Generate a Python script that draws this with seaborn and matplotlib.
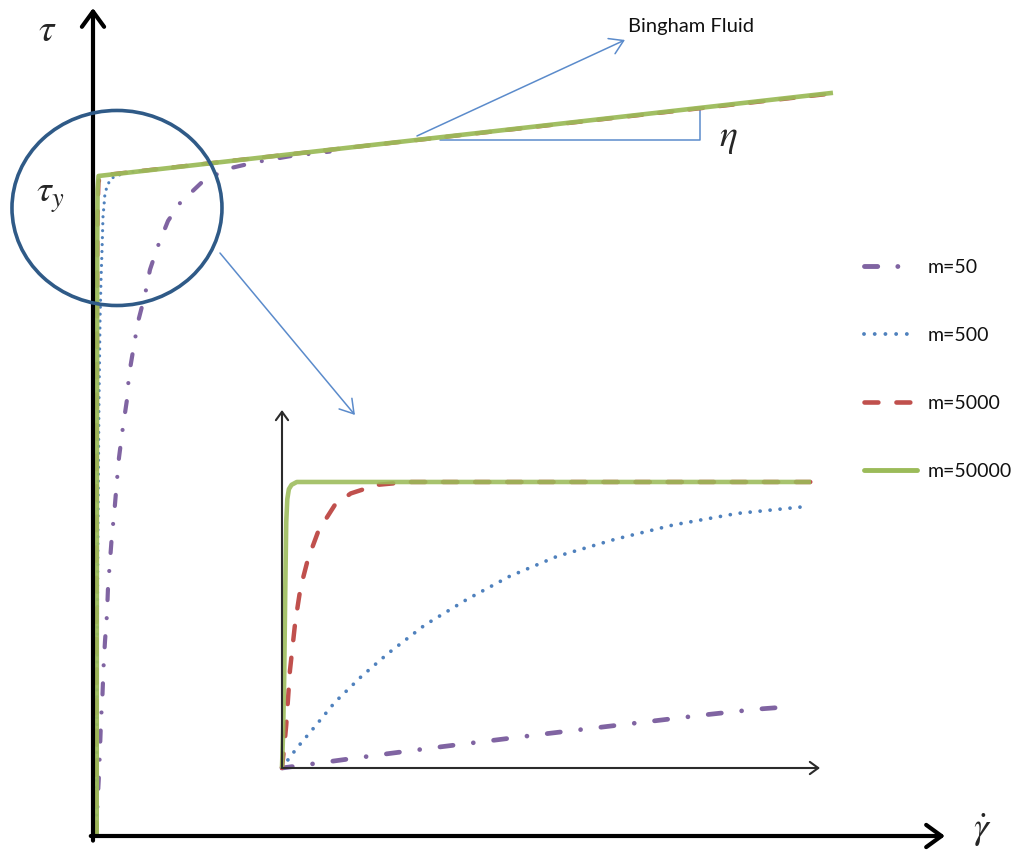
import matplotlib
matplotlib.use("Agg")
import matplotlib.pyplot as plt
from matplotlib.patches import Ellipse
from matplotlib.lines import Line2D
import seaborn as sns

sns.set_theme(style="white")
plt.rcParams["font.family"] = ["Lato", "DejaVu Sans"]
plt.rcParams["mathtext.fontset"] = "stix"
plt.rcParams["lines.scale_dashes"] = False

# Regularisation exponents and their colours
m_labels = ["m=50", "m=500", "m=5000", "m=50000"]
m_colors = ["#8064A2", "#4F81BD", "#C0504D", "#9BBB59"]

# Main diagram: shear rate (normalised) vs shear stress (units of tau_y)
gd_50 = [0.0041, 0.0068, 0.0081, 0.0095, 0.0108, 0.0128, 0.0142, 0.0162, 0.0189,
         0.0203, 0.0230, 0.0257, 0.0284, 0.0324, 0.0351, 0.0405, 0.0459, 0.0486,
         0.0541, 0.0608, 0.0703, 0.0770, 0.0878, 0.1014, 0.1176, 0.1486, 0.1824,
         0.2203, 0.2662, 0.3200]
tau_50 = [0.0, 0.065, 0.092, 0.133, 0.174, 0.214, 0.255, 0.295, 0.336,
          0.377, 0.417, 0.458, 0.485, 0.539, 0.573, 0.620, 0.661, 0.698,
          0.735, 0.779, 0.820, 0.858, 0.894, 0.932, 0.959, 0.992, 1.011,
          1.021, 1.030, 1.037]
gd_500 = [0.0047, 0.0054, 0.0068, 0.0081, 0.0095, 0.0108, 0.0122, 0.0135, 0.0149,
          0.0162, 0.0203, 0.0257, 0.0432, 0.0700]
tau_500 = [0.0, 0.236, 0.479, 0.661, 0.782, 0.842, 0.888, 0.938, 0.956,
           0.974, 0.988, 0.997, 1.005, 1.008]
gd_5000 = [0.0045, 0.0050, 0.0056, 0.0062, 0.0075, 0.0100, 0.0200, 1.0]
tau_5000 = [0.0, 0.45, 0.80, 0.94, 0.99, 1.000, 1.002, 1.125]
gd_50000 = [0.0050, 0.0053, 0.0057, 0.0062, 0.0075, 1.0]
tau_50000 = [0.0, 0.55, 0.90, 0.98, 1.0, 1.126]

# Zoomed view near the origin (normalised shear rate vs tau / tau_y)
zx_50 = [0.0, 0.1, 0.2, 0.3, 0.4, 0.5, 0.6, 0.7, 0.8, 0.9, 0.965]
zy_50 = [0.0, 0.025, 0.050, 0.074, 0.097, 0.120, 0.142, 0.164, 0.186, 0.206, 0.215]
zx_500 = [0.0, 0.015, 0.03, 0.06, 0.10, 0.15, 0.20, 0.27, 0.35, 0.43, 0.52, 0.63,
          0.74, 0.86, 0.995]
zy_500 = [0.0, 0.038, 0.074, 0.14, 0.23, 0.32, 0.40, 0.50, 0.59, 0.67, 0.74, 0.80,
          0.85, 0.89, 0.915]
zx_5000 = [0.0, 0.004, 0.008, 0.015, 0.025, 0.035, 0.049, 0.069, 0.10, 0.13, 0.18,
           0.24, 1.0]
zy_5000 = [0.0, 0.07, 0.15, 0.34, 0.51, 0.63, 0.73, 0.83, 0.92, 0.96, 0.99, 1.0, 1.0]
zx_50000 = [0.0, 0.002, 0.004, 0.006, 0.008, 0.010, 0.013, 0.018, 0.028, 1.0]
zy_50000 = [0.0, 0.12, 0.30, 0.60, 0.86, 0.94, 0.975, 0.99, 1.0, 1.0]

W, H = 1020, 857
fig = plt.figure(figsize=(W / 100, H / 100), dpi=100)
fig.patch.set_facecolor("white")

thin_blue = "#5B8BCB"


def curve(ax, x, y, color, lw, ls, alpha=1.0, z=2):
    sns.lineplot(x=x, y=y, ax=ax, color=color, linewidth=lw, linestyle=ls,
                 dash_capstyle="round", solid_capstyle="butt", alpha=alpha,
                 legend=False, estimator=None, sort=False, clip_on=False, zorder=z)


# ---------------- main diagram ----------------
ax = fig.add_axes([93 / W, 21 / H, 852 / W, 828 / H])
ax.set_xlim(0, 1.1514)
ax.set_ylim(0, 1.2545)
ax.axis("off")

curve(ax, gd_50, tau_50, m_colors[0], 3.0, (0, (8, 13, 0.01, 13)))
curve(ax, gd_500, tau_500, m_colors[1], 2.3, (0, (0.01, 5)))
curve(ax, gd_5000, tau_5000, m_colors[2], 3.0, (0, (10, 12)))
curve(ax, gd_50000, tau_50000, m_colors[3], 3.3, "-", alpha=0.94, z=3)

# coordinate axes with arrow heads
axis_arrow = dict(arrowstyle="->,head_length=0.55,head_width=0.4", lw=3.0,
                  color="black", mutation_scale=20, shrinkA=0, shrinkB=0)
ax.annotate("", xy=(0, 1.2545), xytext=(0, -0.007), arrowprops=axis_arrow,
            annotation_clip=False)
ax.annotate("", xy=(1.1514, 0), xytext=(-0.003, 0), arrowprops=axis_arrow,
            annotation_clip=False)

# circle marking the yield region
ax.add_patch(Ellipse((0.0324, 0.9515), 0.2838, 0.2955, fill=False,
                     edgecolor="#2F5A87", lw=2.6, zorder=4, clip_on=False))

thin_arrow = dict(arrowstyle="->,head_length=0.8,head_width=0.5", lw=1.1,
                  color=thin_blue, mutation_scale=12, shrinkA=0, shrinkB=0)
ax.annotate("", xy=(0.7189, 1.2061), xytext=(0.4378, 1.0606), arrowprops=thin_arrow)
ax.annotate("", xy=(0.354, 0.6379), xytext=(0.1716, 0.8833), arrowprops=thin_arrow)

# slope triangle for the plastic viscosity
ax.plot([0.469, 0.8203, 0.8203], [1.0545, 1.0545, 1.1033], color=thin_blue,
        lw=1.1, zorder=1)

ax.text(0.7230, 1.2258, "Bingham Fluid", fontsize=14.5, color="#111111",
        ha="left", va="center")
ax.text(0.858, 1.0576, r"$\eta$", fontsize=27, ha="center", va="center")
ax.text(-0.0622, 1.2212, r"$\tau$", fontsize=28, ha="center", va="center")
ax.text(-0.0581, 0.968, r"$\tau_y$", fontsize=27, ha="center", va="center")
ax.text(1.2014, 0.009, r"$\dot{\gamma}$", fontsize=27, ha="center", va="center",
        clip_on=False)

# ---------------- zoomed inset ----------------
ax2 = fig.add_axes([282 / W, (H - 768) / H, 538 / W, 358 / H])
ax2.set_xlim(0, 1.017)
ax2.set_ylim(0, 1.2517)
ax2.axis("off")

curve(ax2, zx_50, zy_50, m_colors[0], 3.4, (2, (9.5, 14.7, 0.01, 14.7)))
curve(ax2, zx_500, zy_500, m_colors[1], 2.7, (0, (0.01, 7.2)))
curve(ax2, zx_5000, zy_5000, m_colors[2], 3.2, (0, (10.4, 12.7)))
curve(ax2, zx_50000, zy_50000, m_colors[3], 3.3, "-", alpha=0.88, z=3)

inset_arrow = dict(arrowstyle="->,head_length=0.55,head_width=0.4", lw=1.5,
                   color="#2b2b2b", mutation_scale=11, shrinkA=0, shrinkB=0)
ax2.annotate("", xy=(0, 1.2517), xytext=(0, 0), arrowprops=inset_arrow,
             annotation_clip=False)
ax2.annotate("", xy=(1.017, 0), xytext=(0, 0), arrowprops=inset_arrow,
             annotation_clip=False)

# ---------------- legend ----------------
handles = [
    Line2D([], [], color=m_colors[0], lw=3.5, linestyle=(0, (9.5, 14.5, 0.01, 14.5)),
           dash_capstyle="round"),
    Line2D([], [], color=m_colors[1], lw=2.8, linestyle=(0, (0.01, 7.7)),
           dash_capstyle="round"),
    Line2D([], [], color=m_colors[2], lw=3.3, linestyle=(0, (10, 13)),
           dash_capstyle="round"),
    Line2D([], [], color=m_colors[3], lw=3.5, linestyle="-"),
]
fig.legend(handles, m_labels, loc="upper left",
           bbox_to_anchor=(864 / W, 1 - 259 / H), bbox_transform=fig.transFigure,
           frameon=False, fontsize=14, borderpad=0, borderaxespad=0,
           handlelength=2.75, handletextpad=0.5, labelspacing=2.62,
           labelcolor="#111111")

fig.savefig("out.png", dpi=100, facecolor="white")
